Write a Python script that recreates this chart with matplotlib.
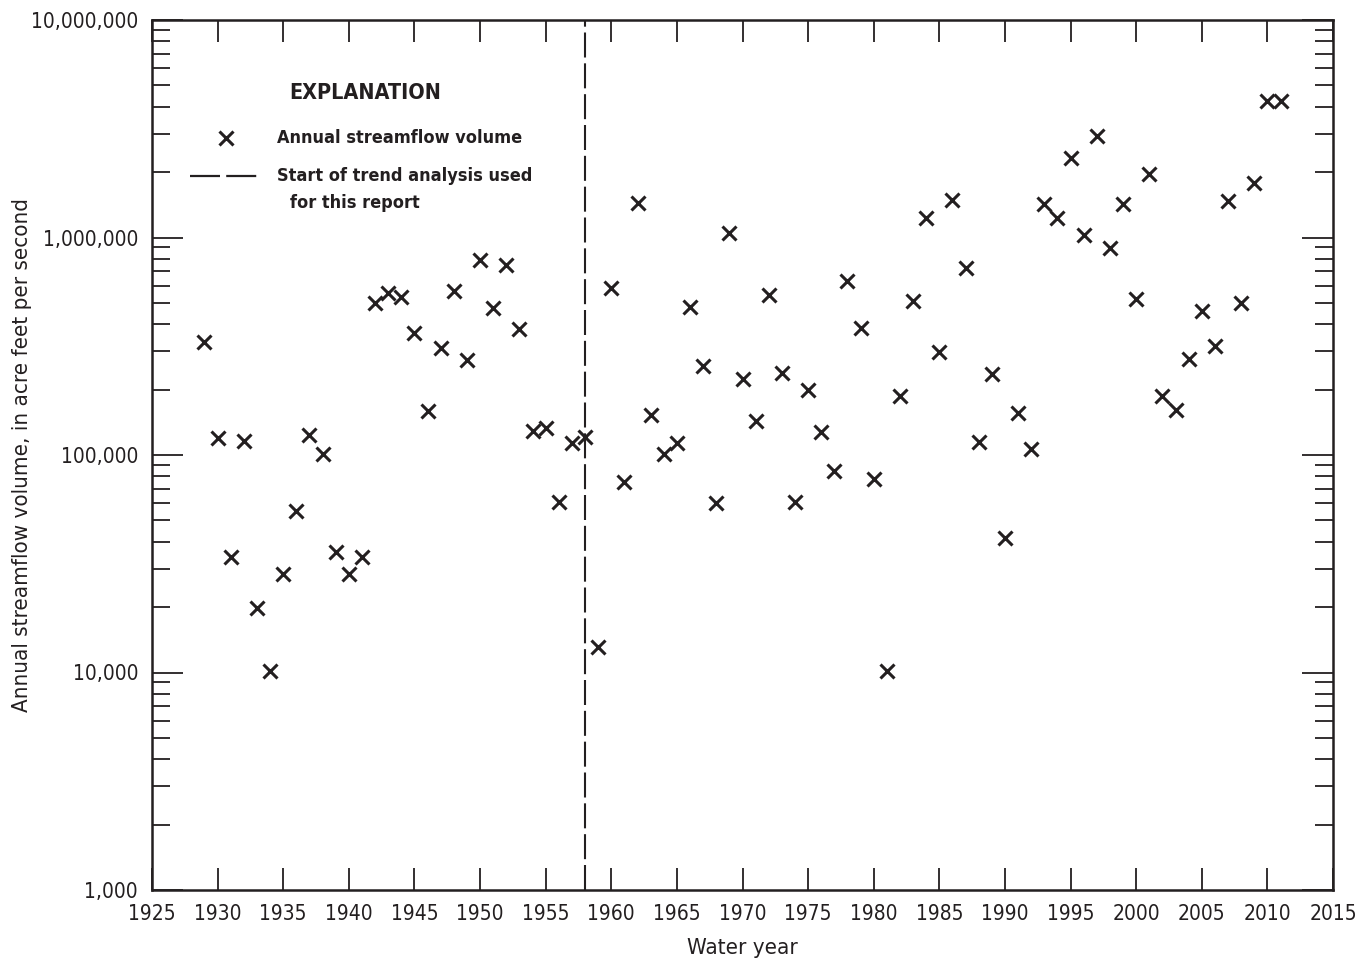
import numpy as np
import matplotlib
matplotlib.use('Agg')
import matplotlib.pyplot as plt
from matplotlib.ticker import FixedLocator, FuncFormatter, LogLocator, NullFormatter

plt.rcParams['font.family'] = ['DejaVu Sans']
plt.rcParams['font.stretch'] = 'condensed'

# annual streamflow volume, acre feet
years = np.arange(1929, 2012)
volume = [
    330000, 120000, 34000, 116000, 19800, 10200, 28400, 55000, 124000, 101000,  # 1929-1938
    35800, 28400, 34000, 500000, 556000, 532000, 364000, 159000, 310000, 568000,  # 1939-1948
    273000, 788000, 474000, 748000, 380000, 129000, 133000, 60800, 114000, 121000,  # 1949-1958
    13100, 586000, 75000, 1440000, 153000, 101000, 114000, 479000, 257000, 60000,  # 1959-1968
    1050000, 224000, 143000, 544000, 238000, 60800, 199000, 128000, 84000, 631000,  # 1969-1978
    384000, 77600, 10200, 187000, 511000, 1230000, 298000, 1490000, 724000, 115000,  # 1979-1988
    236000, 41500, 156000, 107000, 1430000, 1230000, 2320000, 1030000, 2930000, 895000,  # 1989-1998
    1430000, 521000, 1960000, 187000, 161000, 276000, 459000, 317000, 1470000, 500000,  # 1999-2008
    1780000, 4240000, 4240000,  # 2009-2011
]
trend_start = 1958
x_ticks = list(range(1925, 2016, 5))
y_ticks = [1e3, 1e4, 1e5, 1e6, 1e7]

W, H = 1361, 961
fig = plt.figure(figsize=(W / 100, H / 100), dpi=100)
ax = fig.add_axes([152 / W, 1 - 890 / H, (1333 - 152) / W, (890 - 20) / H])

ax.plot(years, volume, 'x', color='#231f20', markersize=10, markeredgewidth=2.2, zorder=3)
ax.axvline(trend_start, color='#231f20', lw=1.5, ls=(0, (12, 2.8)), zorder=2)

ax.set_yscale('log')
ax.set_xlim(1925, 2015)
ax.set_ylim(1e3, 1e7)
ax.xaxis.set_major_locator(FixedLocator(x_ticks))
ax.yaxis.set_major_locator(FixedLocator(y_ticks))
ax.yaxis.set_minor_locator(LogLocator(base=10, subs=np.arange(2, 10)))
ax.yaxis.set_minor_formatter(NullFormatter())
ax.yaxis.set_major_formatter(FuncFormatter(lambda v, p: f'{int(round(v)):,}'))

ax.tick_params(axis='x', which='major', direction='in', top=True, length=16, width=1.3,
               labelsize=15, pad=10, color='#231f20', labelcolor='#231f20')
ax.tick_params(axis='y', which='major', direction='in', right=True, length=22, width=1.3,
               labelsize=15, pad=10, color='#231f20', labelcolor='#231f20')
ax.tick_params(axis='y', which='minor', direction='in', right=True, length=13, width=1.3,
               color='#231f20')
for s in ax.spines.values():
    s.set_linewidth(1.8)
    s.set_color('#231f20')

ax.set_xlabel('Water year', fontsize=16, color='#231f20', labelpad=10)
ax.set_ylabel('Annual streamflow volume, in acre feet per second', fontsize=16,
              color='#231f20', labelpad=-1)

# explanation block
def px(x, y):
    return x / W, 1 - y / H

fig.text(*px(365, 93), 'EXPLANATION', fontsize=15.5, fontweight='bold', ha='center',
         va='center', color='#231f20')
fig.lines.append(plt.Line2D([226 / W], [1 - 138 / H], marker='x', color='#231f20',
                            markersize=10, markeredgewidth=2.2, transform=fig.transFigure))
fig.text(*px(277, 138), 'Annual streamflow volume', fontsize=13, fontweight='bold',
         va='center', color='#231f20')
fig.lines.append(plt.Line2D([190 / W, 262 / W], [1 - 176 / H, 1 - 176 / H], color='#231f20',
                            lw=1.6, ls=(0, (13.5, 2.8)), transform=fig.transFigure))
fig.text(*px(277, 176), 'Start of trend analysis used', fontsize=13, fontweight='bold',
         va='center', color='#231f20')
fig.text(*px(290, 203), 'for this report', fontsize=13, fontweight='bold',
         va='center', color='#231f20')

fig.savefig('out.png', dpi=100)
